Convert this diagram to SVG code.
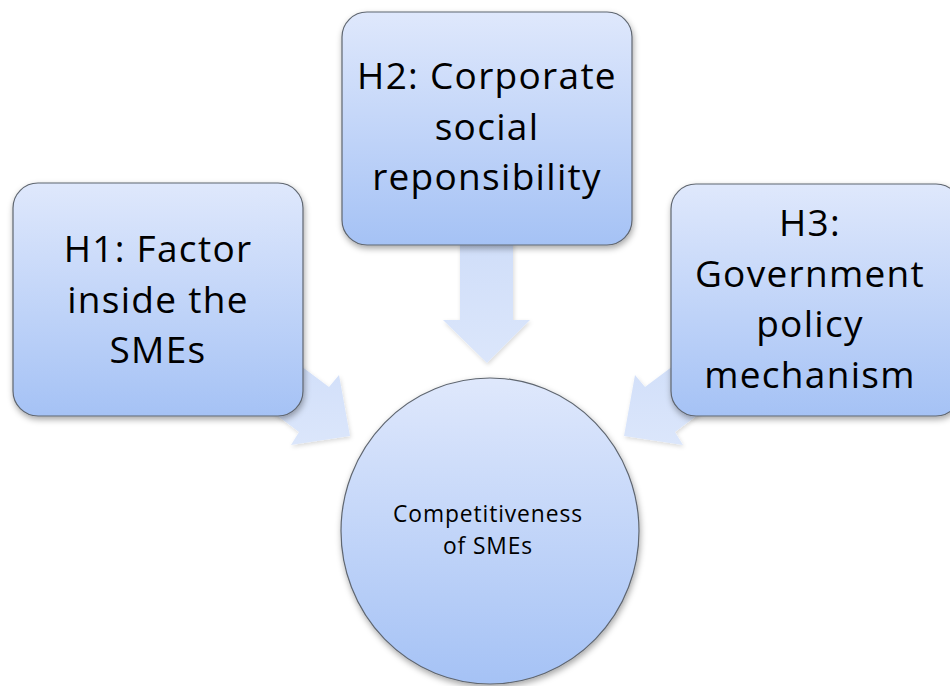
<svg xmlns="http://www.w3.org/2000/svg" width="950" height="686" viewBox="0 0 950 686">
  <defs>
    <linearGradient id="boxGrad" x1="0" y1="0" x2="0" y2="1">
      <stop offset="0" stop-color="#dfe8fc"/>
      <stop offset="1" stop-color="#a5c2f5"/>
    </linearGradient>
    <linearGradient id="arrowGrad" x1="0" y1="0" x2="0" y2="1">
      <stop offset="0" stop-color="#d0def9"/>
      <stop offset="1" stop-color="#dbe6fb"/>
    </linearGradient>
    <filter id="shadow" x="-10%" y="-10%" width="125%" height="125%">
      <feDropShadow dx="1" dy="3" stdDeviation="3" flood-color="#000" flood-opacity="0.35"/>
    </filter>
    <filter id="ashadow" x="-10%" y="-10%" width="125%" height="125%">
      <feDropShadow dx="1" dy="2" stdDeviation="2" flood-color="#000" flood-opacity="0.15"/>
    </filter>
  </defs>
  <style>
    .box { fill: url(#boxGrad); stroke: #5f6670; stroke-width: 1.2; filter: url(#shadow); }
    .arrow { fill: url(#arrowGrad); stroke: none; filter: url(#ashadow); }
    .big { font-family: "Open Sans", "Liberation Sans", sans-serif; font-size: 37px; letter-spacing: 1.3px; fill: #000; text-anchor: middle; }
    .small { font-family: "Open Sans", "Liberation Sans", sans-serif; font-size: 22.8px; letter-spacing: 0.9px; fill: #000; text-anchor: middle; }
  </style>
  <rect width="950" height="686" fill="#ffffff"/>

  <g id="connectors">
    <polygon class="arrow" points="460,240 513,240 513,320 530,320 487,363 443,320 460,320"/>
    <polygon class="arrow" points="281,351 329,387 339,375 350,436 291,445 299,432 251,396"/>
    <polygon class="arrow" points="693,351 645,387 635,375 624,436 683,445 675,432 723,396"/>
  </g>

  <g id="h1">
    <rect class="box" x="13" y="183" width="290" height="233" rx="25" ry="25"/>
    <text class="big" x="158" y="262">H1: Factor</text>
    <text class="big" x="158" y="312.5">inside the</text>
    <text class="big" x="158" y="363">SMEs</text>
  </g>

  <g id="h2">
    <rect class="box" x="342" y="12" width="290" height="233" rx="25" ry="25"/>
    <text class="big" x="487" y="89">H2: Corporate</text>
    <text class="big" x="487" y="139.5">social</text>
    <text class="big" x="487" y="190">reponsibility</text>
  </g>

  <g id="h3">
    <rect class="box" x="671" y="184" width="290" height="232" rx="25" ry="25"/>
    <text class="big" x="810" y="236">H3:</text>
    <text class="big" x="810" y="286.5">Government</text>
    <text class="big" x="810" y="337">policy</text>
    <text class="big" x="810" y="387.5">mechanism</text>
  </g>

  <g id="competitiveness">
    <ellipse class="box" cx="490" cy="531" rx="149" ry="153"/>
    <text class="small" x="488" y="522">Competitiveness</text>
    <text class="small" x="488" y="554">of SMEs</text>
  </g>
</svg>
